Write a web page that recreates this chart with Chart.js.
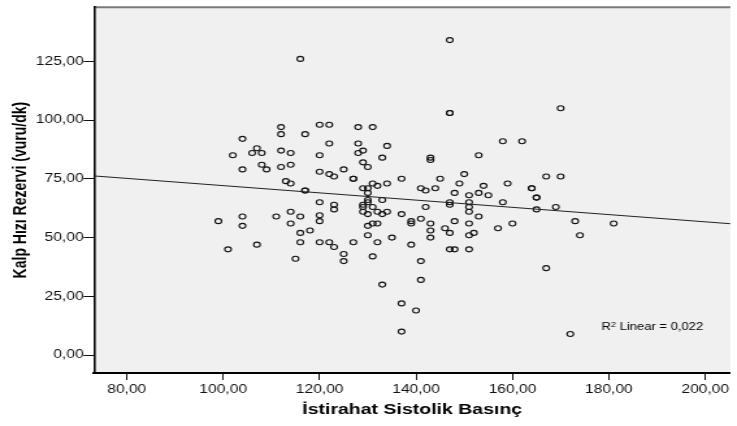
<!DOCTYPE html>
<html>
<head>
<meta charset="utf-8">
<script src="https://cdn.jsdelivr.net/npm/chart.js@4.4.1/dist/chart.umd.min.js"></script>
<style>
  html, body { margin: 0; padding: 0; background: #fff; overflow: hidden; }
  /* the original SPSS picture is stretched sideways, so we draw narrow and widen it */
  #wrap { width: 567px; height: 426px; transform: scaleX(1.2998); transform-origin: 0 0; }
</style>
</head>
<body>
<div id="wrap"><canvas id="chart" width="567" height="426"></canvas></div>
<script>
// resting systolic pressure (x) and heart rate reserve (y), one entry per subject
const restPressure = [
  99, 101, 102, 104, 104, 104, 104, 106, 107, 107, 108, 108, 109, 111,
  112, 112, 112, 112, 113, 114, 114, 114, 114, 114, 115,
  116, 116, 116, 116, 117, 117, 117, 118,
  120, 120, 120, 120, 120, 120, 120,
  122, 122, 122, 122, 123, 123, 123, 123, 125, 125, 125, 127, 127, 127,
  128, 128, 128, 129, 129, 129, 129, 129, 129,
  130, 130, 130, 130, 130, 130, 130, 130,
  131, 131, 131, 131, 131, 132, 132, 132, 132, 133, 133, 133, 133,
  134, 134, 134, 135, 137, 137, 137, 137, 139, 139, 139, 140,
  141, 141, 141, 141, 142, 142, 143, 143, 143, 143, 143, 144, 145, 146,
  147, 147, 147, 147, 147, 147, 147, 148, 148, 148, 149, 150,
  151, 151, 151, 151, 151, 151, 151, 152, 153, 153, 153, 154, 155, 157,
  158, 158, 159, 160, 162, 164, 164, 165, 165, 165, 167, 167, 169,
  170, 170, 172, 173, 174, 181
];
const hrReserve = [
  57, 45, 85, 92, 79, 59, 55, 86, 88, 47, 86, 81, 79, 59,
  97, 94, 87, 80, 74, 86, 81, 73, 61, 56, 41,
  126, 59, 52, 48, 94, 70, 70, 53,
  98, 85, 78, 65, 59.5, 57, 48,
  98, 90, 77, 48, 76, 64, 62, 46, 79, 43, 40, 75, 75, 48,
  97, 90, 86, 87, 82, 71, 64, 63, 61,
  80, 71, 69, 66, 65, 60, 55, 51,
  97, 73, 63, 56, 42, 72, 61, 56, 48, 84, 66, 60, 30,
  89, 73, 61, 50, 75, 60, 22, 10, 57, 56, 47, 19,
  71, 58, 40, 32, 70, 63, 84, 83, 56, 53, 50, 71, 75, 54,
  134, 103, 103, 65, 64, 52, 45, 69, 57, 45, 73, 77,
  68, 65, 63, 61, 56, 51, 45, 52, 85, 69, 59, 72, 68, 54,
  91, 65, 73, 56, 91, 71, 71, 67, 67, 62, 76, 37, 63,
  105, 76, 9, 57, 51, 56
];

const xTicks = [80, 100, 120, 140, 160, 180, 200];
const yTicks = [0, 25, 50, 75, 100, 125];
const xRange = [73.2, 205.2];
const yRange = [-7.6, 148];

// linear fit as drawn in the reference
const fitIntercept = 87.5;
const fitSlope = -0.154;
const rSquared = 0.022;

const xTitle = 'İstirahat Sistolik Basınç';
const yTitle = 'Kalp Hızı Rezervi (vuru/dk)';

const fontFamily = '"Liberation Sans", Arial, Helvetica, sans-serif';
Chart.defaults.font.family = fontFamily;

const commaNum = v => v.toFixed(2).replace('.', ',');

const points = restPressure.map((x, i) => ({ x: x, y: hrReserve[i] }));
const fitLine = xRange.map(x => ({ x: x, y: fitIntercept + fitSlope * x }));

const plotBackground = {
  id: 'plotBackground',
  beforeDraw(chart) {
    const { ctx, chartArea: a } = chart;
    ctx.save();
    ctx.fillStyle = '#f0f0f0';
    ctx.fillRect(a.left, a.top, a.right - a.left, a.bottom - a.top);
    ctx.strokeStyle = '#7a7a7a';
    ctx.lineWidth = 2;
    ctx.beginPath();
    ctx.moveTo(a.left, a.top);
    ctx.lineTo(a.right, a.top);
    ctx.stroke();
    ctx.restore();
  }
};

// "R² Linear = 0,022" note near the bottom right
const r2Label = {
  id: 'r2Label',
  afterDatasetsDraw(chart) {
    const { ctx, scales } = chart;
    let px = scales.x.getPixelForValue(178.5);
    const py = scales.y.getPixelForValue(11.7);
    ctx.save();
    ctx.fillStyle = '#000';
    ctx.textBaseline = 'middle';
    ctx.textAlign = 'left';
    ctx.font = '10px ' + fontFamily;
    ctx.fillText('R', px, py);
    px += ctx.measureText('R').width;
    ctx.font = '7px ' + fontFamily;
    ctx.fillText('2', px, py - 3);
    px += ctx.measureText('2').width;
    ctx.font = '10px ' + fontFamily;
    ctx.fillText(' Linear = ' + rSquared.toFixed(3).replace('.', ','), px, py);
    ctx.restore();
  }
};

new Chart(document.getElementById('chart'), {
  type: 'scatter',
  data: {
    datasets: [
      {
        data: points,
        pointRadius: 2.5,
        pointBorderWidth: 1.1,
        pointBorderColor: '#111',
        pointBackgroundColor: 'rgba(0,0,0,0)',
        order: 2
      },
      {
        type: 'line',
        data: fitLine,
        borderColor: '#222',
        borderWidth: 1,
        pointRadius: 0,
        fill: false,
        order: 1
      }
    ]
  },
  options: {
    responsive: false,
    animation: false,
    layout: { padding: { top: 5.7, left: 0, right: 0, bottom: 0 } },
    plugins: { legend: { display: false }, tooltip: { enabled: false } },
    scales: {
      x: {
        type: 'linear',
        min: xRange[0],
        max: xRange[1],
        afterBuildTicks: s => { s.ticks = xTicks.map(v => ({ value: v })); },
        afterFit: s => { s.height = 53; },
        ticks: {
          callback: v => commaNum(v),
          color: '#111',
          font: { size: 12 },
          padding: 2,
          maxRotation: 0,
          autoSkip: false
        },
        grid: { drawOnChartArea: false, drawTicks: true, tickLength: 7, color: '#111', lineWidth: 1 },
        border: { color: '#000', width: 2 },
        title: {
          display: true,
          text: xTitle,
          color: '#000',
          font: { size: 15, weight: 'bold' },
          padding: { top: 0, bottom: 7 }
        }
      },
      y: {
        type: 'linear',
        min: yRange[0],
        max: yRange[1],
        afterBuildTicks: s => { s.ticks = yTicks.map(v => ({ value: v })); },
        afterFit: s => { s.width = 72.3; },
        ticks: {
          callback: v => commaNum(v),
          color: '#111',
          font: { size: 12 },
          padding: 0,
          autoSkip: false
        },
        grid: { drawOnChartArea: false, drawTicks: true, tickLength: 8, color: '#111', lineWidth: 1 },
        border: { color: '#000', width: 1.6 },
        title: {
          display: true,
          text: yTitle,
          color: '#000',
          font: { size: 14, weight: 'bold' },
          padding: { top: 7.6, bottom: 0 }
        }
      }
    }
  },
  plugins: [plotBackground, r2Label]
});
</script>
</body>
</html>
